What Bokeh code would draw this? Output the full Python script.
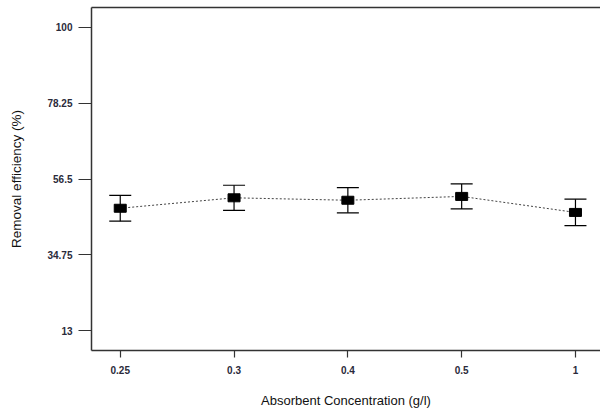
from bokeh.plotting import figure
from bokeh.models import (ColumnDataSource, FixedTicker, LinearAxis, Range1d,
                          Whisker, TeeHead)
from bokeh.embed import file_html
from bokeh.resources import INLINE

# ---- data ----
categories = ["0.25", "0.3", "0.4", "0.5", "1"]
removal = [48.1, 51.1, 50.4, 51.5, 46.9]
errors = [3.7, 3.6, 3.6, 3.6, 3.8]
y_ticks = [13, 34.75, 56.5, 78.25, 100]
y_tick_labels = ["13", "34.75", "56.5", "78.25", "100"]

xs = list(range(len(categories)))
src = ColumnDataSource(dict(
    x=xs, y=removal,
    lo=[v - e for v, e in zip(removal, errors)],
    hi=[v + e for v, e in zip(removal, errors)],
))

FONT = "Liberation Sans"
AX = "#333333"

p = figure(width=600, height=412, output_backend="svg", toolbar_location=None,
           x_range=Range1d(-0.2526, 4.22), y_range=Range1d(7.26, 105.74),
           x_axis_type=None, y_axis_type=None,
           min_border_left=91, min_border_right=0, min_border_top=7,
           min_border_bottom=62)
p.outline_line_color = None
p.xgrid.visible = False
p.ygrid.visible = False
p.background_fill_color = "white"
p.border_fill_color = "white"

# left axis
yax = LinearAxis(ticker=FixedTicker(ticks=y_ticks),
                 major_label_overrides={t: l for t, l in zip(y_ticks, y_tick_labels)},
                 axis_label="Removal efficiency (%)")
yax.axis_line_color = AX
yax.axis_line_width = 1.5
yax.major_tick_line_color = AX
yax.major_tick_line_width = 1.2
yax.major_tick_in = 0
yax.major_tick_out = 13
yax.minor_tick_line_color = None
yax.major_label_standoff = 6
yax.major_label_text_font = FONT
yax.major_label_text_font_size = "10px"
yax.major_label_text_font_style = "bold"
yax.major_label_text_color = "#2a2a3a"
yax.axis_label_standoff = 20
yax.axis_label_text_font = FONT
yax.axis_label_text_font_size = "13.5px"
yax.axis_label_text_font_style = "normal"
yax.axis_label_text_color = "#111111"
p.add_layout(yax, "left")

# bottom axis
xax = LinearAxis(ticker=FixedTicker(ticks=xs),
                 major_label_overrides={i: c for i, c in zip(xs, categories)},
                 axis_label="Absorbent Concentration (g/l)")
xax.axis_line_color = AX
xax.axis_line_width = 1.5
xax.major_tick_line_color = AX
xax.major_tick_line_width = 1.2
xax.major_tick_in = 0
xax.major_tick_out = 7
xax.minor_tick_line_color = None
xax.major_label_standoff = 8
xax.major_label_text_font = FONT
xax.major_label_text_font_size = "10px"
xax.major_label_text_font_style = "bold"
xax.major_label_text_color = "#2a2a3a"
xax.axis_label_standoff = 16
xax.axis_label_text_font = FONT
xax.axis_label_text_font_size = "13px"
xax.axis_label_text_font_style = "normal"
xax.axis_label_text_color = "#111111"
p.add_layout(xax, "below")

# top frame line
tax = LinearAxis(ticker=FixedTicker(ticks=[]))
tax.axis_line_color = AX
tax.axis_line_width = 1.5
tax.major_tick_in = 0
tax.major_tick_out = 0
tax.minor_tick_line_color = None
tax.major_label_standoff = 0
tax.major_label_text_font_size = "0px"
p.add_layout(tax, "above")

# dashed connecting line
p.line("x", "y", source=src, line_color="#444444", line_width=1, line_dash="2 2")

# error bars
w = Whisker(base="x", lower="lo", upper="hi", source=src,
            line_color="black", line_width=1.2,
            upper_head=TeeHead(size=22, line_color="black", line_width=1.2),
            lower_head=TeeHead(size=22, line_color="black", line_width=1.2))
p.add_layout(w)

# markers
p.rect("x", "y", width=12, height=8, width_units="screen", height_units="screen",
       source=src, fill_color="black", line_color="black")

open("out.html", "w").write(file_html(p, INLINE))
